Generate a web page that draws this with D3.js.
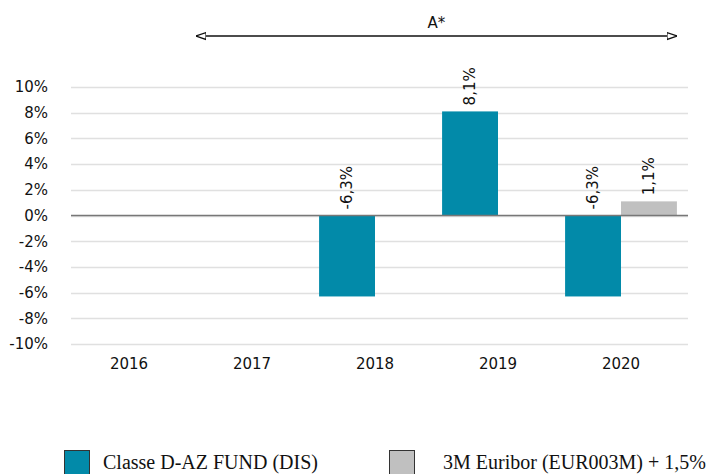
<!DOCTYPE html>
<html>
<head>
<meta charset="utf-8">
<script src="https://cdn.jsdelivr.net/npm/d3@7"></script>
<style>
  body { margin: 0; background: #fff; }
  svg text { font-family: "DejaVu Sans", sans-serif; fill: #111; }
</style>
</head>
<body>
<svg id="chart"></svg>
<script>
// chart data
var years = ["2016", "2017", "2018", "2019", "2020"];
var fundValues = [null, null, -6.3, 8.1, -6.3];
var benchValues = [null, null, null, null, 1.1];
var seriesNames = ["Classe D-AZ FUND (DIS)", "3M Euribor (EUR003M) + 1,5%"];
var yTicks = [-10, -8, -6, -4, -2, 0, 2, 4, 6, 8, 10];
var periodLabel = "A*";
var periodRange = ["2017", "2020"];

var colors = ["#028aa9", "#c0c0c0"];
var width = 716, height = 474;
var plot = { left: 71, right: 688, top: 87, bottom: 344 };

var svg = d3.select("#chart").attr("width", width).attr("height", height);

var x = d3.scaleBand().domain(years).range([67.5, 682.5]).padding(0);
var xSub = d3.scaleBand().domain([0, 1]).range([0, x.bandwidth()]).paddingInner(0).paddingOuter(0.1);
var y = d3.scaleLinear().domain([-10, 10]).range([plot.bottom, plot.top]);

var fmt = function (v) { return v.toFixed(1).replace(".", ",") + "%"; };

// grid lines
svg.append("g")
  .selectAll("line")
  .data(yTicks)
  .enter()
  .append("line")
  .attr("x1", plot.left)
  .attr("x2", plot.right)
  .attr("y1", (d) => Math.round(y(d)) + 0.5)
  .attr("y2", (d) => Math.round(y(d)) + 0.5)
  .style("stroke", "#e0e0e0")
  .style("stroke-width", 1.3);

// y axis labels
var yAxis = d3.axisLeft(y).tickValues(yTicks).tickSize(0).tickPadding(0)
  .tickFormat((d) => d + "%");
svg.append("g")
  .attr("transform", "translate(48,0)")
  .call(yAxis)
  .call((g) => g.attr("font-family", null).attr("font-size", null))
  .call((g) => g.select(".domain").remove())
  .selectAll("text")
  .style("font-size", "15px")
  .attr("fill", "#111");

// x axis labels
var xAxis = d3.axisBottom(x).tickSize(0).tickPadding(0);
svg.append("g")
  .attr("transform", "translate(0,358)")
  .call(xAxis)
  .call((g) => g.attr("font-family", null).attr("font-size", null))
  .call((g) => g.select(".domain").remove())
  .selectAll("text")
  .style("font-size", "15px")
  .attr("fill", "#111");

// bars
var barData = [];
years.forEach(function (yr, i) {
  [fundValues[i], benchValues[i]].forEach(function (v, s) {
    if (v != null) barData.push({ year: yr, series: s, value: v });
  });
});

svg.append("g")
  .selectAll("rect")
  .data(barData)
  .enter()
  .append("rect")
  .attr("x", (d) => x(d.year) + xSub(d.series))
  .attr("width", xSub.bandwidth())
  .attr("y", (d) => y(Math.max(0, d.value)))
  .attr("height", (d) => Math.abs(y(d.value) - y(0)))
  .style("fill", (d) => colors[d.series]);

// zero line
svg.append("line")
  .attr("x1", plot.left)
  .attr("x2", plot.right)
  .attr("y1", y(0))
  .attr("y2", y(0))
  .style("stroke", "#777")
  .style("stroke-width", 1.6);

// value labels (rotated)
svg.append("g")
  .selectAll("text")
  .data(barData)
  .enter()
  .append("text")
  .attr("transform", (d) => {
    var cx = x(d.year) + xSub(d.series) + xSub.bandwidth() / 2;
    var cy = y(Math.max(0, d.value)) - 6;
    return `translate(${cx},${cy}) rotate(-90)`;
  })
  .attr("dy", "0.35em")
  .style("font-size", "15px")
  .text((d) => fmt(d.value));

// period arrow
var defs = svg.append("defs");
["start", "end"].forEach(function (k) {
  defs.append("marker")
    .attr("id", "arrow-" + k)
    .attr("viewBox", "0 0 10 10")
    .attr("refX", k == "end" ? 10 : 0)
    .attr("refY", 5)
    .attr("markerWidth", 10)
    .attr("markerHeight", 10)
    .attr("markerUnits", "userSpaceOnUse")
    .attr("orient", "auto")
    .append("path")
    .attr("d", k == "end" ? "M0,1.5 L10,5 L0,8.5 Z" : "M10,1.5 L0,5 L10,8.5 Z")
    .style("fill", "#fff")
    .style("stroke", "#111")
    .style("stroke-width", 1.3);
});
var ax1 = x(periodRange[0]) + xSub(0), ax2 = x(periodRange[1]) + xSub(1) + xSub.bandwidth();
svg.append("line")
  .attr("x1", ax1)
  .attr("x2", ax2)
  .attr("y1", 36)
  .attr("y2", 36)
  .style("stroke", "#111")
  .style("stroke-width", 1.3)
  .attr("marker-start", "url(#arrow-start)")
  .attr("marker-end", "url(#arrow-end)");
svg.append("text")
  .attr("x", (ax1 + ax2) / 2)
  .attr("y", 28)
  .attr("text-anchor", "middle")
  .style("font-size", "15px")
  .text(periodLabel);

// legend
var legendX = [64, 389];
var legend = svg.append("g")
  .selectAll("g")
  .data(seriesNames)
  .enter()
  .append("g")
  .attr("transform", (d, i) => `translate(${legendX[i]},450)`);
legend.append("rect")
  .attr("x", 0.5)
  .attr("y", 0.5)
  .attr("width", 25)
  .attr("height", 30)
  .style("fill", (d, i) => colors[i])
  .style("stroke", "#333")
  .style("stroke-width", 1);
legend.append("text")
  .attr("x", (d, i) => (i == 0 ? 39 : 54))
  .attr("y", 19)
  .style("font-family", "Liberation Serif, serif")
  .style("font-size", "20px")
  .text((d) => d);
</script>
</body>
</html>
